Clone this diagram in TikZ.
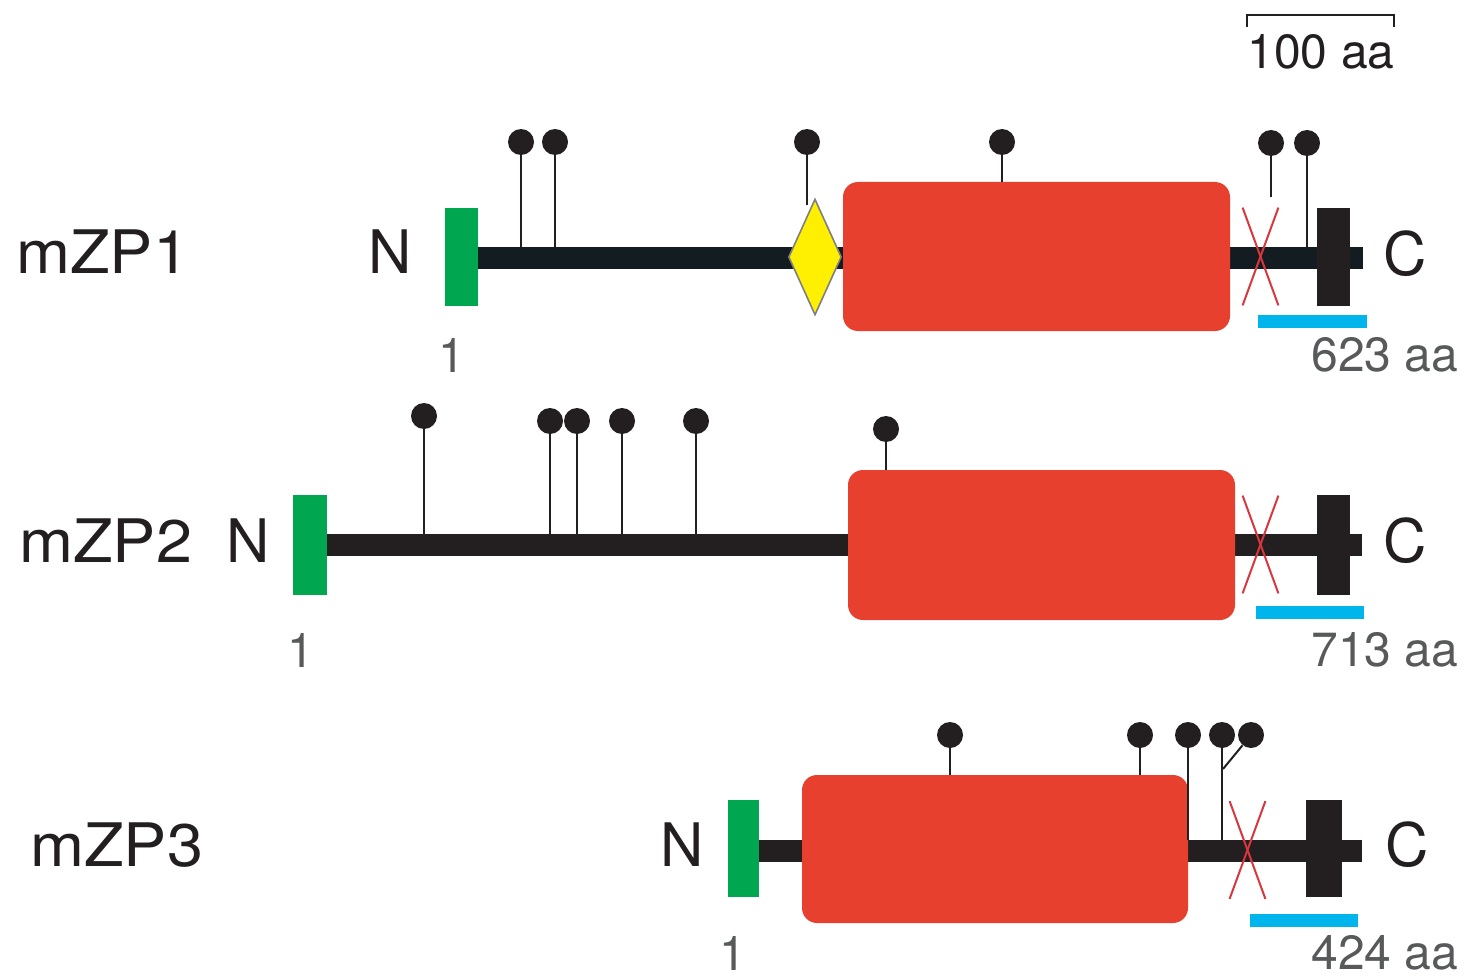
\documentclass[tikz,border=0pt]{standalone}
\usepackage{fontspec}
\setmainfont{TeX Gyre Heros}
\newfontfamily\widefont[FakeStretch=1.08]{TeX Gyre Heros}
\usetikzlibrary{shapes.geometric}
\definecolor{zred}{HTML}{E8402F}
\definecolor{zgreen}{HTML}{00A650}
\definecolor{zyellow}{HTML}{FFEF00}
\definecolor{zblue}{HTML}{00B4EC}
\definecolor{zblack}{HTML}{231F20}
\definecolor{zdark}{HTML}{131C21}
\definecolor{zgray}{HTML}{58595B}
\definecolor{xred}{HTML}{D9363E}
\tikzset{
  lbl/.style={font=\fontsize{30}{36}\selectfont, text=zblack, inner sep=0pt, anchor=west},
  protlbl/.style={font=\widefont\fontsize{30}{36}\selectfont, text=zblack, inner sep=0pt, anchor=west},
  num/.style={font=\fontsize{24}{28}\selectfont, text=zgray, inner sep=0pt},
  bbone/.style={rectangle, fill=#1, draw=none, inner sep=0pt, minimum height=11pt},
  sigbox/.style={rectangle, fill=zgreen, draw=none, inner sep=0pt, minimum width=16.5pt, minimum height=49pt},
  zpbox/.style={rectangle, rounded corners=7.5pt, fill=zred, draw=none, inner sep=0pt, minimum width=193.5pt, minimum height=74.5pt},
  tmbox/.style={rectangle, fill=zblack, draw=none, inner sep=0pt, minimum width=16.5pt, minimum height=49pt},
  cfcs/.style={diamond, fill=zyellow, draw=gray, line width=0.8pt, inner sep=0pt, minimum width=26.5pt, minimum height=58pt},
  head/.style={circle, fill=zblack, draw=none, inner sep=0pt, minimum size=13pt},
  stem/.style={draw=zblack, line width=1pt},
  xcut/.style={draw=xred, line width=1pt},
  gpi/.style={draw=zblue, line width=6.5pt},
  xmark/.style={rectangle, inner sep=0pt, minimum width=17.5pt, minimum height=48.5pt}
}
\begin{document}
\begin{tikzpicture}[x=0.5pt,y=-0.5pt]
\useasboundingbox (0,0) rectangle (1468,979);

% ---------- scale bar ----------
\coordinate (sbA) at (1247,27);
\coordinate (sbB) at (1247,15);
\coordinate (sbC) at (1394,15);
\coordinate (sbD) at (1394,27);
\draw[line width=1pt, zblack] (sbA) -- (sbB) -- (sbC) -- (sbD);
\node[num, text=zblack] (sbl) at (1321,52) {100 aa};

% ================= mZP1 =================
\node[protlbl] (n1) at (16,252) {mZP1};
\node[lbl] (N1) at (368,252) {N};
\node[lbl] (C1) at (1383,254) {C};
\node[bbone=zdark, minimum width=446.5pt] (bb1) at (916.5,258) {};
% heads
\node[head] (h1a) at (521,142) {};
\node[head] (h1b) at (555,142) {};
\node[head] (h1c) at (807,142) {};
\node[head] (h1d) at (1002,142) {};
\node[head] (h1e) at (1271,143) {};
\node[head] (h1f) at (1307,143) {};
\coordinate (e1e) at (1271,197);
\draw[stem] (h1a) -- (h1a |- bb1.north);
\draw[stem] (h1b) -- (h1b |- bb1.north);
\draw[stem] (h1c) -- (807,205);
\draw[stem] (h1e) -- (e1e);
\draw[stem] (h1f) -- (h1f |- bb1.north);
\node[sigbox] (s1) at (461.5,257) {};
\node[zpbox] (z1) at (1036.5,256.5) {};
\draw[stem] (h1d) -- (h1d |- z1.north);
\node[cfcs] (d1) at (815,257) {};
\node[tmbox] (t1) at (1333.5,257) {};
\node[xmark] (x1) at (1260.5,256.5) {};
\draw[xcut] (x1.north west) -- (x1.south east);
\draw[xcut] (x1.north east) -- (x1.south west);
\coordinate (g1a) at (1258,321.5);
\coordinate (g1b) at (1367,321.5);
\draw[gpi] (g1a) -- (g1b);
\node[num] (one1) at (452,355) {1};
\node[num, anchor=west] (len1) at (1311,355) {623 aa};

% ================= mZP2 =================
\node[protlbl] (n2) at (19,541) {mZP2};
\node[lbl] (N2) at (226,541) {N};
\node[lbl] (C2) at (1383,541) {C};
\node[bbone=zblack, minimum width=521pt] (bb2) at (841,545) {};
\node[head] (h2a) at (424,416) {};
\node[head] (h2b) at (550,421) {};
\node[head] (h2c) at (577,421) {};
\node[head] (h2d) at (622,421) {};
\node[head] (h2e) at (696,421) {};
\node[head] (h2f) at (886,429) {};
\draw[stem] (h2a) -- (h2a |- bb2.north);
\draw[stem] (h2b) -- (h2b |- bb2.north);
\draw[stem] (h2c) -- (h2c |- bb2.north);
\draw[stem] (h2d) -- (h2d |- bb2.north);
\draw[stem] (h2e) -- (h2e |- bb2.north);
\node[sigbox, minimum width=17pt, minimum height=50pt] (s2) at (310,545) {};
\node[zpbox, minimum height=75pt] (z2) at (1041.5,545) {};
\draw[stem] (h2f) -- (h2f |- z2.north);
\node[tmbox, minimum height=50pt] (t2) at (1333.5,544.5) {};
\node[xmark] (x2) at (1260.5,544.5) {};
\draw[xcut] (x2.north west) -- (x2.south east);
\draw[xcut] (x2.north east) -- (x2.south west);
\coordinate (g2a) at (1256,612.5);
\coordinate (g2b) at (1364,612.5);
\draw[gpi] (g2a) -- (g2b);
\node[num] (one2) at (301,650) {1};
\node[num, anchor=west] (len2) at (1311,650) {713 aa};

% ================= mZP3 =================
\node[protlbl] (n3) at (30,845) {mZP3};
\node[lbl] (N3) at (660,845) {N};
\node[lbl] (C3) at (1385,845) {C};
\node[bbone=zblack, minimum width=306pt] (bb3) at (1056,851) {};
\node[head] (h3a) at (950,735) {};
\node[head] (h3b) at (1140,735) {};
\node[head] (h3c) at (1188,735) {};
\node[head] (h3d) at (1222,735) {};
\node[head] (h3e) at (1251,735) {};
\node[sigbox, minimum width=15.5pt, minimum height=48.5pt] (s3) at (743.5,848.5) {};
\node[zpbox, minimum width=193pt, minimum height=74pt] (z3) at (995,849) {};
\draw[stem] (h3a) -- (h3a |- z3.north);
\draw[stem] (h3b) -- (h3b |- z3.north);
\draw[stem] (h3c) -- (h3c |- bb3.north);
\draw[stem] (h3d) -- (h3d |- bb3.north);
\coordinate (j3) at (1223,769);
\draw[stem] (h3e) -- (j3);
\node[tmbox, minimum width=18pt, minimum height=48.5pt] (t3) at (1324,848.5) {};
\node[xmark] (x3) at (1247.5,850) {};
\draw[xcut] (x3.north west) -- (x3.south east);
\draw[xcut] (x3.north east) -- (x3.south west);
\coordinate (g3a) at (1250,920.5);
\coordinate (g3b) at (1358,920.5);
\draw[gpi] (g3a) -- (g3b);
\node[num] (one3) at (733,953) {1};
\node[num, anchor=west] (len3) at (1311,953) {424 aa};
\end{tikzpicture}
\end{document}
